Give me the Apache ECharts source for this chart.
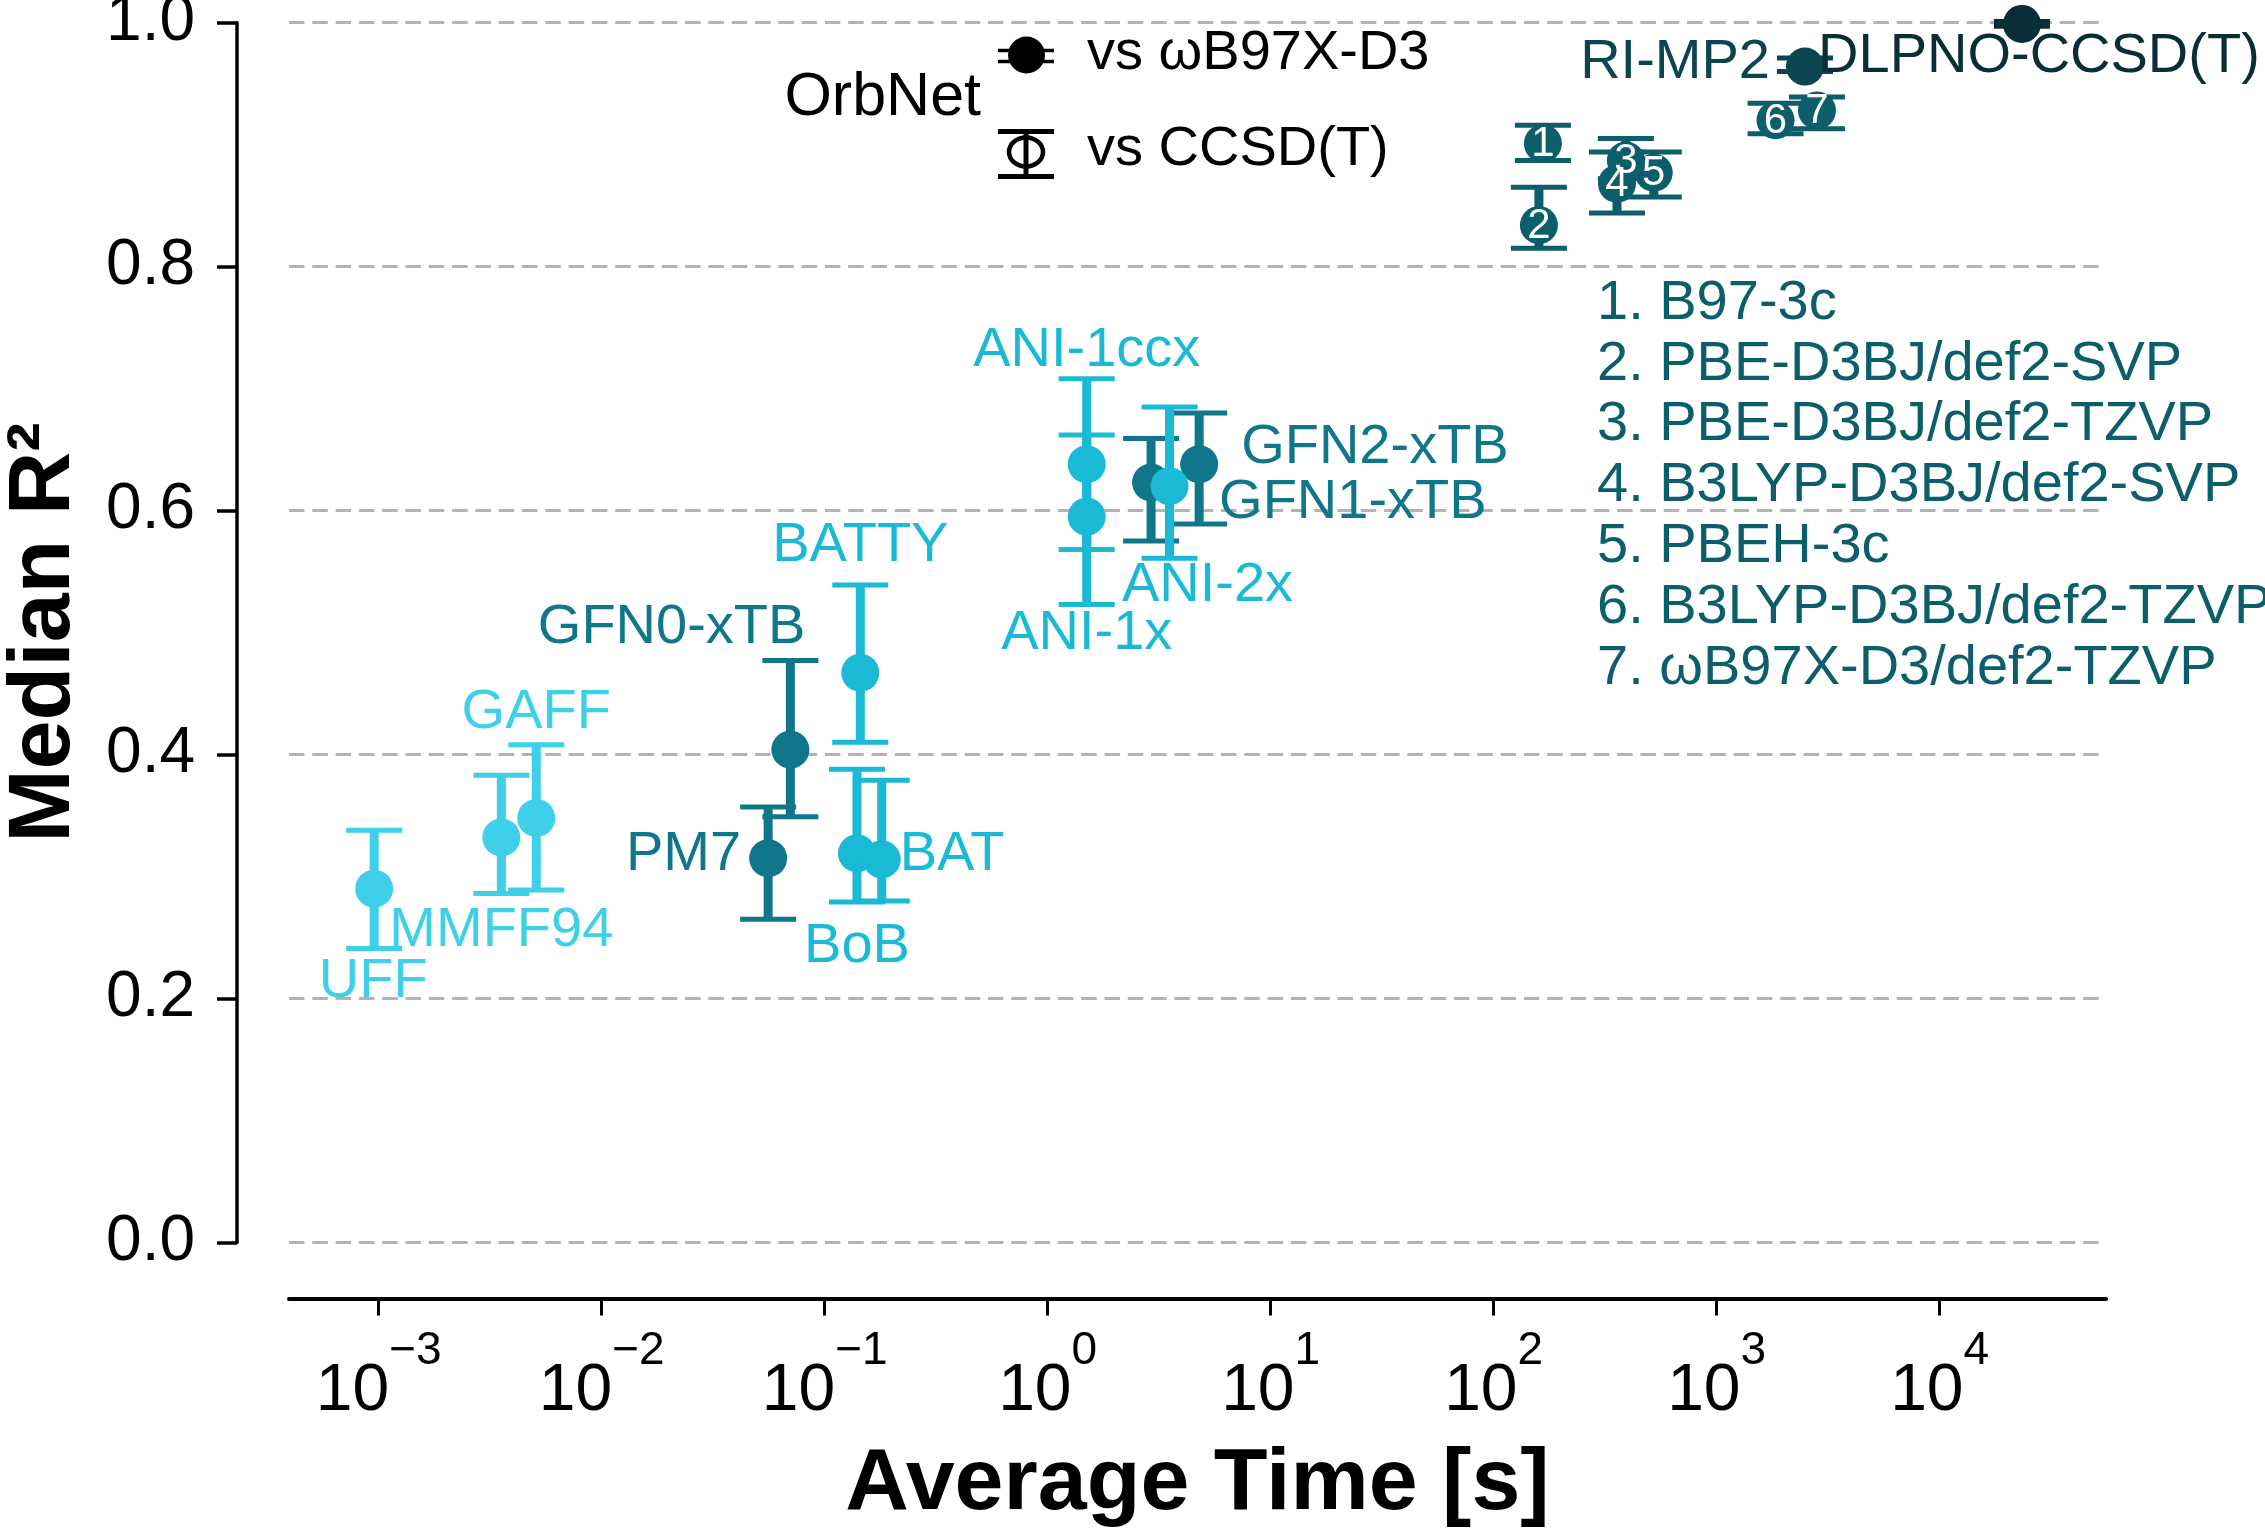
<!DOCTYPE html>
<html>
<head>
<meta charset="utf-8">
<title>Median R² vs Average Time</title>
<script src="https://cdn.jsdelivr.net/npm/echarts@6/dist/echarts.min.js"></script>
<style>
    html, body { margin: 0; padding: 0; background: #fff; }
    #chart { width: 2265px; height: 1529px; }
</style>
</head>
<body>
<div id="chart"></div>
<script>
(function () {
    // ---------------- data ----------------
    // plotting order (later ones are drawn on top)
    var methods = ['UFF', 'MMFF94', 'GAFF', 'PM7', 'GFN0-xTB', 'GFN1-xTB', 'GFN2-xTB',
        'BoB', 'BAT', 'BATTY', 'ANI-1x', 'ANI-1ccx', 'ANI-2x',
        'B97-3c', 'PBE-D3BJ/def2-SVP', 'PBE-D3BJ/def2-TZVP', 'B3LYP-D3BJ/def2-SVP',
        'PBEH-3c', 'B3LYP-D3BJ/def2-TZVP', 'ωB97X-D3/def2-TZVP',
        'RI-MP2', 'DLPNO-CCSD(T)'];
    // average time per calculation [s]
    var avgTime = [0.000955, 0.00355, 0.00509, 0.0558, 0.0702, 2.91, 4.78,
        0.1396, 0.1803, 0.1445, 1.497, 1.497, 3.52,
        166.3, 159.6, 391.7, 357.3, 522.4, 1837, 2818,
        2489, 23390];
    // median R² (dots, vs ωB97X-D3)
    var medianR2 = [0.290, 0.332, 0.348, 0.315, 0.404, 0.623, 0.638,
        0.319, 0.314, 0.467, 0.595, 0.638, 0.620,
        0.901, 0.834, 0.887, 0.868, 0.877, 0.920, 0.928,
        0.964, 0.999];
    // error bar ends (vs CCSD(T))
    var r2Low = [0.241, 0.286, 0.289, 0.265, 0.349, 0.575, 0.589,
        0.279, 0.280, 0.410, 0.523, 0.568, 0.561,
        0.887, 0.815, 0.872, 0.844, 0.857, 0.909, 0.913,
        0.960, 0.997];
    var r2High = [0.338, 0.383, 0.408, 0.357, 0.477, 0.659, 0.680,
        0.388, 0.379, 0.539, 0.662, 0.708, 0.685,
        0.916, 0.865, 0.905, 0.894, 0.894, 0.934, 0.939,
        0.971, 1.001];
    // methods shown as numbered dots, listed in the key
    var keyNames = methods.slice(13, 20);
    var timeExponents = [-3, -2, -1, 0, 1, 2, 3, 4];

    // ---------------- styling ----------------
    var FONT = '"Liberation Sans", Arial, Helvetica, sans-serif';
    var palette = {
        ff: '#3dd0e8',
        ml: '#1abad6',
        sq: '#10768a',
        dft: '#0c5e6b',
        mp2: '#0b4650',
        cc: '#092e36'
    };
    var groupOf = {
        'UFF': 'ff', 'MMFF94': 'ff', 'GAFF': 'ff',
        'PM7': 'sq', 'GFN0-xTB': 'sq', 'GFN1-xTB': 'sq', 'GFN2-xTB': 'sq',
        'BoB': 'ml', 'BAT': 'ml', 'BATTY': 'ml', 'ANI-1x': 'ml', 'ANI-1ccx': 'ml', 'ANI-2x': 'ml',
        'RI-MP2': 'mp2', 'DLPNO-CCSD(T)': 'cc'
    };
    function colorOf(name) {
        return palette[groupOf[name] || 'dft'];
    }
    // [align, dx, dy] in pixels from the dot centre
    var labelPlace = {
        'UFF': ['center', -1, 93],
        'MMFF94': ['center', 0, 93],
        'GAFF': ['center', 0, -105],
        'PM7': ['right', -27, -4],
        'GFN0-xTB': ['right', 15, -122],
        'GFN1-xTB': ['left', 68, 20],
        'GFN2-xTB': ['left', 42, -17],
        'BoB': ['center', 0, 93],
        'BAT': ['left', 18, -5],
        'BATTY': ['center', 0, -127],
        'ANI-1x': ['center', 0, 117],
        'ANI-1ccx': ['center', 0, -114],
        'ANI-2x': ['center', 38, 99],
        'RI-MP2': ['right', -35, -4],
        'DLPNO-CCSD(T)': ['center', 17, 33]
    };

    var chartDom = document.getElementById('chart');
    var chart = echarts.init(chartDom, null, { renderer: 'canvas' });

    var seriesData = methods.map(function (m, i) {
        return [Math.log10(avgTime[i]), medianR2[i], r2Low[i], r2High[i]];
    });

    function textStyle(txt, x, y, align, font, fill) {
        return {
            text: txt, x: x, y: y, font: font, fill: fill,
            align: align, textAlign: align,
            verticalAlign: 'middle', textVerticalAlign: 'middle'
        };
    }

    function renderPoint(params, api) {
        var i = params.dataIndex;
        var name = methods[i];
        var xv = api.value(0);
        var c = api.coord([xv, api.value(1)]);
        var lo = api.coord([xv, api.value(2)]);
        var hi = api.coord([xv, api.value(3)]);
        var col = colorOf(name);
        var kids = [
            { type: 'line', shape: { x1: c[0], y1: lo[1], x2: c[0], y2: hi[1] },
                style: { stroke: col, lineWidth: 9 } },
            { type: 'line', shape: { x1: c[0] - 28, y1: lo[1], x2: c[0] + 28, y2: lo[1] },
                style: { stroke: col, lineWidth: 5 } },
            { type: 'line', shape: { x1: c[0] - 28, y1: hi[1], x2: c[0] + 28, y2: hi[1] },
                style: { stroke: col, lineWidth: 5 } },
            { type: 'circle', shape: { cx: c[0], cy: c[1], r: 19 }, style: { fill: col } }
        ];
        var lp = labelPlace[name];
        if (lp) {
            kids.push({ type: 'text', z2: 10,
                style: textStyle(name, c[0] + lp[1], c[1] + lp[2], lp[0], '56px ' + FONT, col) });
        }
        var k = keyNames.indexOf(name);
        if (k >= 0) {
            kids.push({ type: 'text', z2: 20,
                style: textStyle(String(k + 1), c[0], c[1] + 1, 'center', '42px ' + FONT, '#fff') });
        }
        return { type: 'group', children: kids };
    }

    var keyText = keyNames.map(function (n, i) { return (i + 1) + '. ' + n; }).join('\n');

    var option = {
        backgroundColor: '#fff',
        animation: false,
        grid: { left: 289, right: 159, top: 22.7, bottom: 286.6, outerBoundsMode: 'none' },
        xAxis: {
            type: 'value',
            min: -3.402,
            max: 4.746,
            position: 'bottom',
            offset: 56,
            axisLine: { show: true, onZero: false, lineStyle: { color: '#000', width: 4 } },
            axisTick: { show: true, customValues: timeExponents, length: 17,
                lineStyle: { color: '#000', width: 3 } },
            axisLabel: {
                customValues: timeExponents,
                margin: 60,
                formatter: function (v) {
                    var e = Math.round(v);
                    return '{b|10}{s|' + (e < 0 ? '\u2212' : '') + Math.abs(e) + '}';
                },
                rich: {
                    b: { fontSize: 66, lineHeight: 66, fontFamily: FONT, color: '#000', verticalAlign: 'bottom' },
                    s: { fontSize: 46, lineHeight: 46, fontFamily: FONT, color: '#000', verticalAlign: 'bottom',
                        padding: [0, 0, 50, 0] }
                }
            },
            splitLine: { show: false },
            name: 'Average Time [s]',
            nameLocation: 'middle',
            nameGap: 142,
            nameTextStyle: { fontSize: 88, fontWeight: 'bold', color: '#000', fontFamily: FONT }
        },
        yAxis: {
            type: 'value',
            min: 0,
            max: 1,
            interval: 0.2,
            offset: 52,
            axisLine: { show: true, onZero: false, lineStyle: { color: '#000', width: 3.5 } },
            axisTick: { show: true, length: 20, lineStyle: { color: '#000', width: 3.5 } },
            axisLabel: {
                margin: 42, fontSize: 64, color: '#000', fontFamily: FONT,
                formatter: function (v) { return v.toFixed(1); }
            },
            splitLine: { show: true, lineStyle: { color: '#b3b3b3', width: 3, type: [15.5, 7.8] } },
            name: 'Median R²',
            nameLocation: 'middle',
            nameGap: 148,
            nameTextStyle: { fontSize: 88, fontWeight: 'bold', color: '#000', fontFamily: FONT }
        },
        series: [{
            type: 'custom',
            name: 'OrbNet',
            clip: false,
            renderItem: renderPoint,
            encode: { x: 0, y: 1 },
            data: seriesData
        }],
        graphic: [
            // legend: OrbNet vs ωB97X-D3 (dot) / vs CCSD(T) (error bar)
            { type: 'text', style: textStyle('OrbNet', 981, 98, 'right', '61px ' + FONT, '#000') },
            { type: 'line', shape: { x1: 998, y1: 50.5, x2: 1054, y2: 50.5 }, style: { stroke: '#000', lineWidth: 3.5 } },
            { type: 'line', shape: { x1: 998, y1: 61.5, x2: 1054, y2: 61.5 }, style: { stroke: '#000', lineWidth: 3.5 } },
            { type: 'circle', shape: { cx: 1026.5, cy: 55, r: 18.5 }, style: { fill: '#000' } },
            { type: 'text', style: textStyle('vs ωB97X-D3', 1087, 54, 'left', '56px ' + FONT, '#000') },
            { type: 'line', shape: { x1: 998, y1: 131.5, x2: 1054, y2: 131.5 }, style: { stroke: '#000', lineWidth: 5 } },
            { type: 'line', shape: { x1: 998, y1: 176.5, x2: 1054, y2: 176.5 }, style: { stroke: '#000', lineWidth: 5 } },
            { type: 'line', shape: { x1: 1026, y1: 131.5, x2: 1026, y2: 176.5 }, style: { stroke: '#000', lineWidth: 5 } },
            { type: 'ellipse', shape: { cx: 1026, cy: 152, rx: 17, ry: 14.5 },
                style: { fill: 'none', stroke: '#000', lineWidth: 4.5 } },
            { type: 'text', style: textStyle('vs CCSD(T)', 1087, 150, 'left', '56px ' + FONT, '#000') },
            // key for the numbered dots
            { type: 'text', style: {
                text: keyText, x: 1597, y: 273, font: '56px ' + FONT, fill: palette.dft,
                lineHeight: 60.8, align: 'left', textAlign: 'left',
                verticalAlign: 'top', textVerticalAlign: 'top'
            } }
        ]
    };

    chart.setOption(option);
})();
</script>
</body>
</html>
